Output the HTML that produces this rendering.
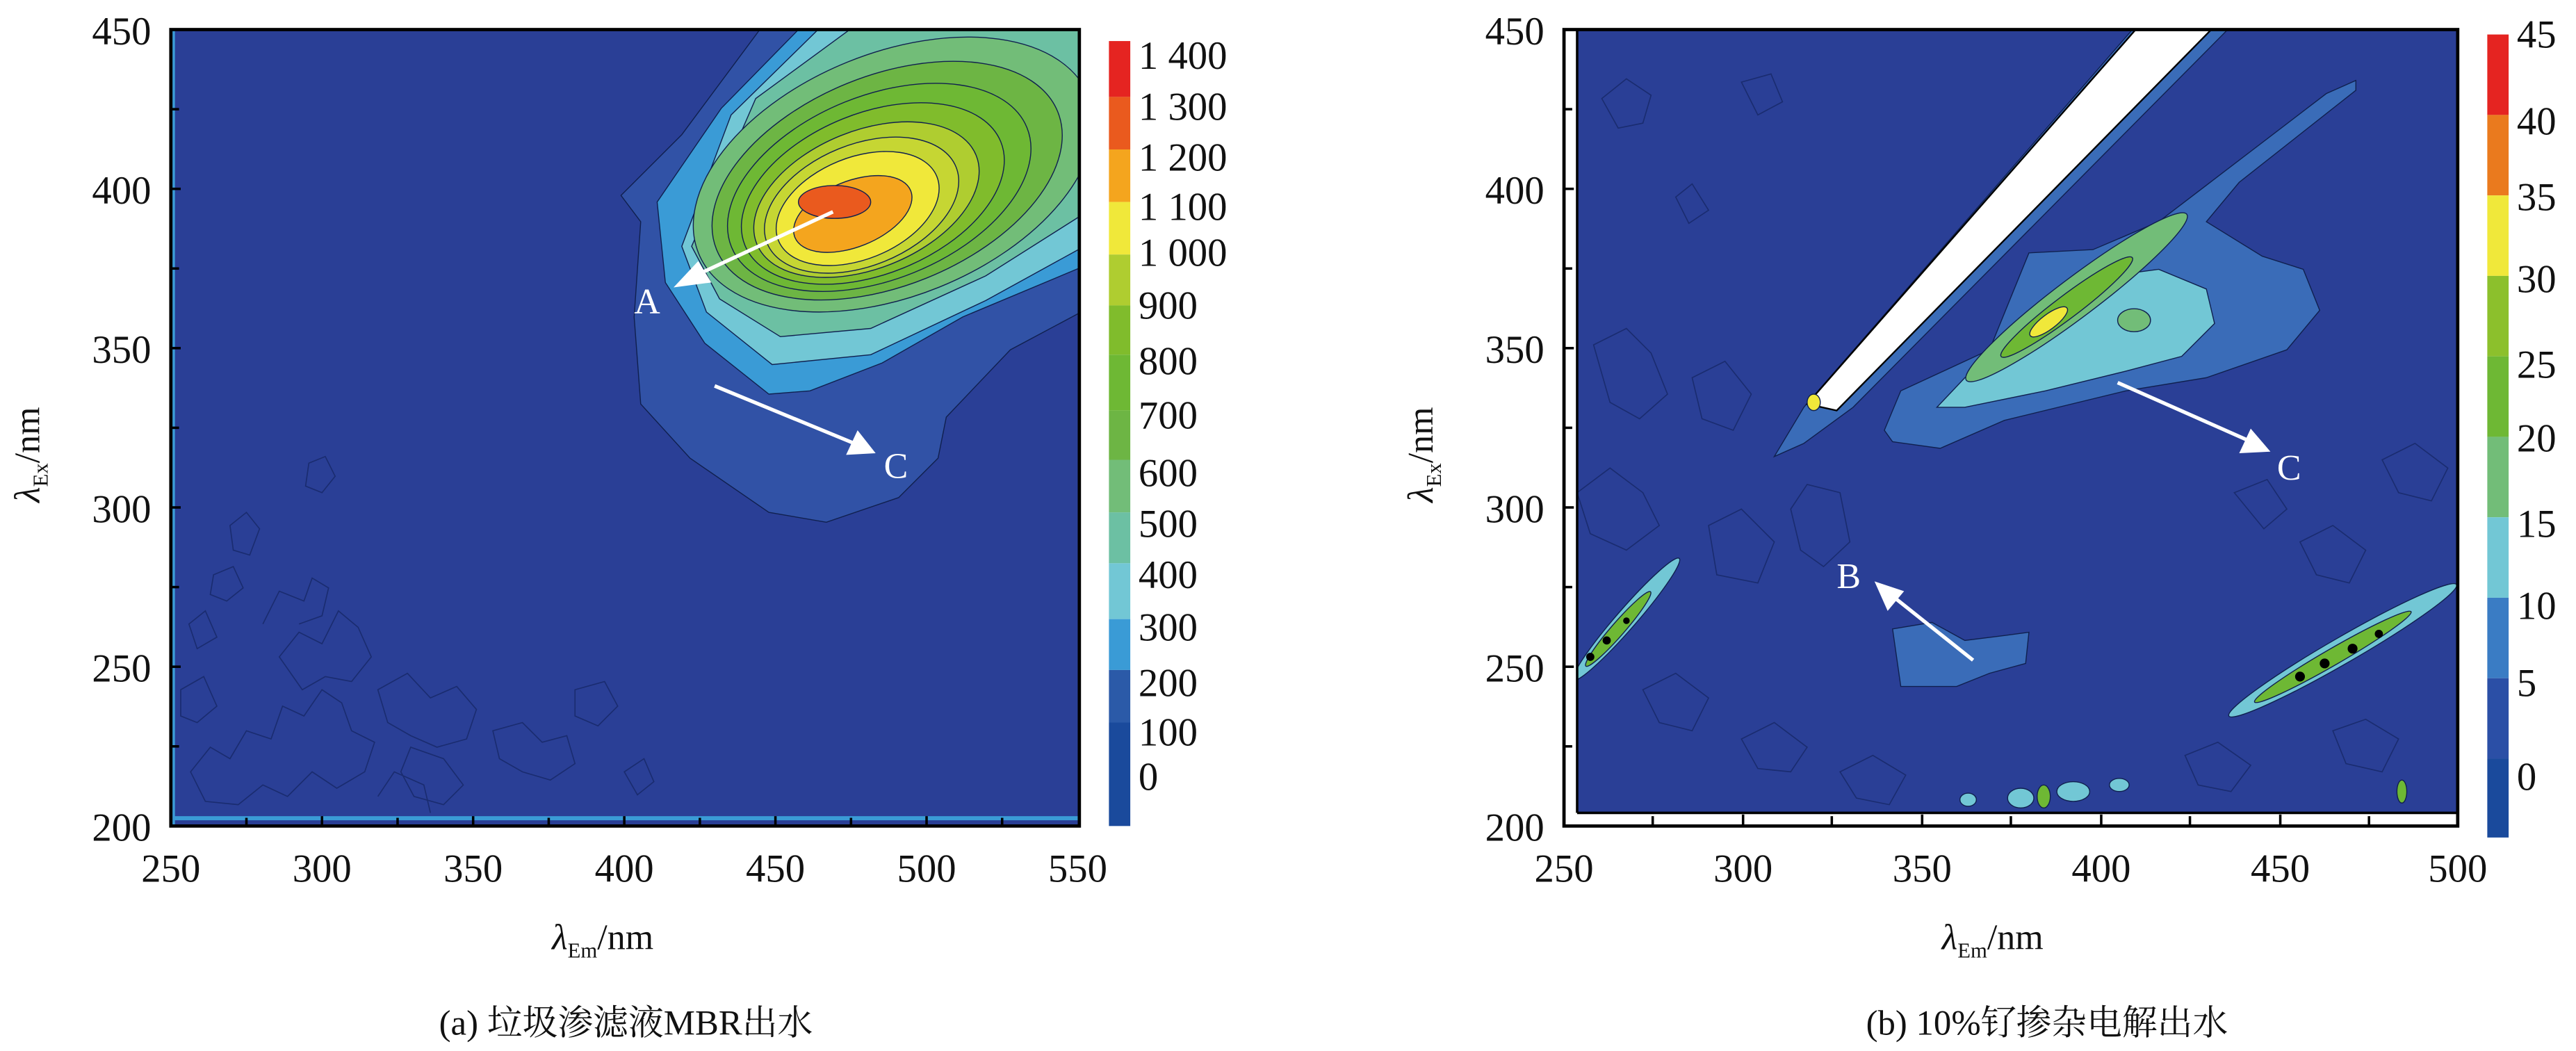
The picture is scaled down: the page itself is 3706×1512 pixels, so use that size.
<!DOCTYPE html>
<html><head><meta charset="utf-8"><style>
html,body{margin:0;padding:0;background:#fff;}
svg{display:block;}
text{font-family:"Liberation Serif","Noto Serif CJK SC",serif;fill:#111;}
</style></head><body>
<svg width="3706" height="1512" viewBox="0 0 1568 640" preserveAspectRatio="none" xmlns="http://www.w3.org/2000/svg">
<defs>
<clipPath id="cl"><rect x="104" y="18" width="553" height="485"/></clipPath>
<clipPath id="cr"><rect x="952" y="18" width="544" height="485"/></clipPath>
</defs>
<rect width="1568" height="640" fill="#fff"/>

<!-- LEFT PLOT -->
<g clip-path="url(#cl)" stroke="#10204f" stroke-width="0.6">
<rect x="104" y="18" width="553" height="485" fill="#2a3f96" stroke="none"/>
<path d="M378,119 L390,135 L386,193 L390,246 L420,279 L468,312 L503,318 L547,303 L571,279 L576,254 L615,213 L660,189 L660,16 L464,16 L415,82 L386,111 Z" fill="#3152a6"/>
<path d="M400,123 L405,172 L429,209 L468,240 L493,238 L537,221 L586,193 L660,162 L660,16 L488,16 L439,66 Z" fill="#3a9bd6"/>
<path d="M415,150 L430,190 L470,222 L530,216 L600,183 L660,150 L660,16 L500,16 L445,70 Z" fill="#72c7d5"/>
<path d="M421,150 L438,182 L475,205 L530,200 L600,168 L660,130 L660,16 L520,16 L460,60 Z" fill="#6cc0a3"/>
<g transform="rotate(-22 540 110)">
<ellipse cx="545" cy="108" rx="128" ry="74" fill="#72bd78"/>
<ellipse cx="540" cy="110" rx="112" ry="64" fill="#6db544"/>
<ellipse cx="534" cy="112" rx="97" ry="56" fill="#6eb834"/>
<ellipse cx="529" cy="114" rx="84" ry="49" fill="#80bc2c"/>
<ellipse cx="524" cy="116" rx="72" ry="42" fill="#afcd30"/>
<ellipse cx="520" cy="118" rx="62" ry="37" fill="#c6d633"/>
<ellipse cx="517" cy="119" rx="52" ry="31" fill="#f0e83a"/>
<ellipse cx="513" cy="121" rx="38" ry="20" fill="#f4a51e"/>
</g>
<ellipse cx="508" cy="123" rx="22" ry="10" fill="#ea5a1e"/>
<rect x="104" y="18" width="2.5" height="485" fill="#3a9bd6" stroke="none"/>
<rect x="104" y="497" width="553" height="2.5" fill="#3a9bd6" stroke="none"/>
<g fill="none" stroke="#1a2c70" stroke-width="0.7">
<path d="M116,470 L128,455 L140,462 L150,445 L165,450 L172,430 L185,436 L196,420 L208,428 L214,445 L228,452 L222,470 L205,480 L190,470 L175,485 L160,478 L145,490 L125,488 Z"/>
<path d="M170,400 L182,385 L196,392 L206,372 L218,382 L226,400 L214,415 L198,412 L184,420 Z"/>
<path d="M230,420 L248,410 L262,425 L278,418 L290,432 L284,450 L266,455 L250,448 L236,440 Z"/>
<path d="M300,445 L318,440 L330,452 L345,448 L350,465 L335,475 L318,470 L304,462 Z"/>
<path d="M130,350 L142,345 L148,358 L138,366 L128,362 Z"/>
<path d="M140,320 L150,312 L158,322 L152,338 L142,335 Z"/>
<path d="M188,282 L198,278 L204,290 L196,300 L186,296 Z"/>
<path d="M250,455 L270,462 L282,478 L270,490 L252,485 L244,470 Z"/>
<path d="M350,420 L368,415 L376,430 L364,442 L350,436 Z"/>
<path d="M110,420 L124,412 L132,430 L120,440 L110,436 Z"/>
<path d="M160,380 L170,360 L185,366 L190,352 L200,358 L196,375 L182,380"/>
<path d="M230,485 L240,470 L258,478 L262,495"/>
<path d="M115,380 L125,372 L132,388 L120,395 Z"/>
<path d="M380,470 L392,462 L398,476 L388,484 Z"/>
</g>
</g>
<rect x="104" y="18" width="553" height="485" fill="none" stroke="#000" stroke-width="2"/>
<g stroke="#000" stroke-width="1.5">
<line x1="104" y1="66.5" x2="109" y2="66.5"/><line x1="104" y1="115" x2="110" y2="115"/><line x1="104" y1="163.5" x2="109" y2="163.5"/><line x1="104" y1="212" x2="110" y2="212"/><line x1="104" y1="260.5" x2="109" y2="260.5"/><line x1="104" y1="309" x2="110" y2="309"/><line x1="104" y1="357.5" x2="109" y2="357.5"/><line x1="104" y1="406" x2="110" y2="406"/><line x1="104" y1="454.5" x2="109" y2="454.5"/>
<line x1="150" y1="503" x2="150" y2="498"/><line x1="196" y1="503" x2="196" y2="497"/><line x1="242" y1="503" x2="242" y2="498"/><line x1="288" y1="503" x2="288" y2="497"/><line x1="334" y1="503" x2="334" y2="498"/><line x1="380" y1="503" x2="380" y2="497"/><line x1="426" y1="503" x2="426" y2="498"/><line x1="472" y1="503" x2="472" y2="497"/><line x1="518" y1="503" x2="518" y2="498"/><line x1="564" y1="503" x2="564" y2="497"/><line x1="610" y1="503" x2="610" y2="498"/>
</g>
<g stroke="#fff" stroke-width="2.2" fill="#fff">
<line x1="507" y1="129" x2="425" y2="167"/>
<polygon points="410,175 425,159 433,172" stroke="none"/>
<line x1="435" y1="235" x2="520" y2="270"/>
<polygon points="533,276 515,277 522,262" stroke="none"/>
</g>
<text x="386" y="191" font-size="22" style="fill:#fff">A</text>
<text x="538" y="291" font-size="22" style="fill:#fff">C</text>
<g font-size="24" text-anchor="end">
<text x="92" y="27">450</text><text x="92" y="124">400</text><text x="92" y="221">350</text><text x="92" y="318">300</text><text x="92" y="415">250</text><text x="92" y="512">200</text>
</g>
<g font-size="24" text-anchor="middle">
<text x="104" y="537">250</text><text x="196" y="537">300</text><text x="288" y="537">350</text><text x="380" y="537">400</text><text x="472" y="537">450</text><text x="564" y="537">500</text><text x="656" y="537">550</text>
</g>
<text x="336" y="578" font-size="22"><tspan font-style="italic">λ</tspan><tspan font-size="13" dy="5">Em</tspan><tspan dy="-5">/nm</tspan></text>
<text transform="translate(24,306) rotate(-90)" font-size="22"><tspan font-style="italic">λ</tspan><tspan font-size="13" dy="5">Ex</tspan><tspan dy="-5">/nm</tspan></text>
<text x="381" y="630" font-size="21.5" text-anchor="middle">(a) 垃圾渗滤液MBR出水</text>
<g stroke="none">
<rect x="675" y="25" width="13" height="34" fill="#e52421"/>
<rect x="675" y="59" width="13" height="32" fill="#ea5a1e"/>
<rect x="675" y="91" width="13" height="32" fill="#f4a51e"/>
<rect x="675" y="123" width="13" height="32" fill="#f0e83a"/>
<rect x="675" y="155" width="13" height="31" fill="#afcd30"/>
<rect x="675" y="186" width="13" height="30" fill="#80bc2c"/>
<rect x="675" y="216" width="13" height="34" fill="#6eb834"/>
<rect x="675" y="250" width="13" height="30" fill="#6db544"/>
<rect x="675" y="280" width="13" height="32" fill="#72bd78"/>
<rect x="675" y="312" width="13" height="31" fill="#6cc0a3"/>
<rect x="675" y="343" width="13" height="34" fill="#72c7d5"/>
<rect x="675" y="377" width="13" height="31" fill="#3a9bd6"/>
<rect x="675" y="408" width="13" height="32" fill="#2b5aa8"/>
<rect x="675" y="440" width="13" height="63" fill="#1a4a9c"/>
</g>
<g font-size="24">
<text x="693" y="42">1 400</text><text x="693" y="73">1 300</text><text x="693" y="104">1 200</text><text x="693" y="134">1 100</text><text x="693" y="162">1 000</text><text x="693" y="194">900</text><text x="693" y="228">800</text><text x="693" y="261">700</text><text x="693" y="296">600</text><text x="693" y="327">500</text><text x="693" y="358">400</text><text x="693" y="390">300</text><text x="693" y="424">200</text><text x="693" y="454">100</text><text x="693" y="481">0</text>
</g>

<!-- RIGHT PLOT -->
<g clip-path="url(#cr)" stroke="#10204f" stroke-width="0.6">
<rect x="952" y="18" width="544" height="485" fill="#2a3f96" stroke="none"/>
<path d="M1147,262 L1157,238 L1211,213 L1235,154 L1274,152 L1314,135 L1416,57 L1434,49 L1434,55 L1363,111 L1343,135 L1377,156 L1402,164 L1412,189 L1392,213 L1343,230 L1294,238 L1220,256 L1181,273 L1152,269 Z" fill="#3a6cb8"/>
<path d="M1179,248 L1196,230 L1230,209 L1284,168 L1314,164 L1343,176 L1348,197 L1328,217 L1294,226 L1245,238 L1196,248 Z" fill="#72c7d5"/>
<ellipse cx="1264" cy="181" rx="84" ry="12" transform="rotate(-37 1264 181)" fill="#72bd78"/>
<ellipse cx="1258" cy="187" rx="50" ry="7" transform="rotate(-37 1258 187)" fill="#6eb834"/>
<ellipse cx="1247" cy="196" rx="14" ry="4.5" transform="rotate(-37 1247 196)" fill="#f0e83a"/>
<ellipse cx="1299" cy="195" rx="10" ry="7" fill="#72bd78"/>
<path d="M1152,383 L1176,379 L1196,390 L1220,387 L1235,385 L1233,404 L1211,410 L1191,418 L1157,418 Z" fill="#3a6cb8"/>
<path d="M1080,278 L1098,248 L1298,18 L1356,18 L1128,248 L1098,270 Z" fill="#3a6cb8"/>
<path d="M1100,246 L1118,250 L1346,18 L1300,18 Z" fill="#fff" stroke="#000" stroke-width="1"/>
<ellipse cx="1104" cy="245" rx="4" ry="5" fill="#f0e83a"/>
<ellipse cx="990" cy="377" rx="49" ry="6" transform="rotate(-49 990 377)" fill="#72c7d5"/>
<ellipse cx="985" cy="383" rx="30" ry="4" transform="rotate(-49 985 383)" fill="#6eb834"/>
<ellipse cx="1426" cy="396" rx="80" ry="8" transform="rotate(-30 1426 396)" fill="#72c7d5"/>
<ellipse cx="1420" cy="400" rx="55" ry="5" transform="rotate(-30 1420 400)" fill="#6eb834"/>
<g fill="#000" stroke="none">
<circle cx="1400" cy="412" r="3"/><circle cx="1415" cy="404" r="3"/><circle cx="1432" cy="395" r="3"/><circle cx="1448" cy="386" r="2.5"/><circle cx="968" cy="400" r="2.5"/><circle cx="978" cy="390" r="2.5"/><circle cx="990" cy="378" r="2"/>
</g>
<g fill="#72c7d5">
<ellipse cx="1230" cy="486" rx="8" ry="6"/><ellipse cx="1262" cy="482" rx="10" ry="6"/><ellipse cx="1198" cy="487" rx="5" ry="4"/><ellipse cx="1290" cy="478" rx="6" ry="4"/>
<ellipse cx="1244" cy="485" rx="4" ry="7" fill="#6eb834"/><ellipse cx="1462" cy="482" rx="3" ry="7" fill="#6eb834"/>
</g>
<g fill="none" stroke="#1a2c70" stroke-width="0.7">
<path d="M975,60 L990,48 L1005,58 L1000,75 L985,78 Z"/>
<path d="M1060,50 L1078,45 L1085,62 L1070,70 Z"/>
<path d="M1020,120 L1030,112 L1040,128 L1028,136 Z"/>
<path d="M970,210 L990,200 L1005,215 L1015,240 L998,255 L980,245 Z"/>
<path d="M1030,230 L1050,220 L1066,240 L1055,262 L1036,255 Z"/>
<path d="M960,300 L980,285 L1000,300 L1010,320 L990,335 L968,325 Z"/>
<path d="M1040,320 L1060,310 L1080,330 L1070,355 L1045,350 Z"/>
<path d="M1090,310 L1100,295 L1120,300 L1126,330 L1110,345 L1096,335 Z"/>
<path d="M1000,420 L1020,410 L1040,425 L1030,445 L1010,440 Z"/>
<path d="M1060,450 L1080,440 L1100,455 L1090,470 L1070,468 Z"/>
<path d="M1400,330 L1420,320 L1440,335 L1430,355 L1410,350 Z"/>
<path d="M1450,280 L1470,270 L1490,285 L1480,305 L1460,300 Z"/>
<path d="M1360,300 L1380,292 L1392,310 L1378,322 Z"/>
<path d="M1120,470 L1140,460 L1160,472 L1150,490 L1130,486 Z"/>
<path d="M1330,460 L1350,452 L1370,466 L1358,482 L1338,478 Z"/>
<path d="M1420,445 L1440,438 L1460,450 L1450,470 L1428,465 Z"/>
</g>
<rect x="952" y="18" width="8" height="485" fill="#fff" stroke="none"/>
<line x1="960" y1="18" x2="960" y2="495" stroke="#000" stroke-width="1.5"/>
<rect x="952" y="495" width="544" height="8" fill="#fff" stroke="none"/>
<line x1="960" y1="495" x2="1496" y2="495" stroke="#000" stroke-width="1.5"/>
</g>
<rect x="952" y="18" width="544" height="485" fill="none" stroke="#000" stroke-width="2"/>
<g stroke="#000" stroke-width="1.5">
<line x1="952" y1="66.5" x2="957" y2="66.5"/><line x1="952" y1="115" x2="958" y2="115"/><line x1="952" y1="163.5" x2="957" y2="163.5"/><line x1="952" y1="212" x2="958" y2="212"/><line x1="952" y1="260.5" x2="957" y2="260.5"/><line x1="952" y1="309" x2="958" y2="309"/><line x1="952" y1="357.5" x2="957" y2="357.5"/><line x1="952" y1="406" x2="958" y2="406"/><line x1="952" y1="454.5" x2="957" y2="454.5"/>
<line x1="1006" y1="503" x2="1006" y2="497"/><line x1="1061" y1="503" x2="1061" y2="496"/><line x1="1115" y1="503" x2="1115" y2="497"/><line x1="1170" y1="503" x2="1170" y2="496"/><line x1="1224" y1="503" x2="1224" y2="497"/><line x1="1279" y1="503" x2="1279" y2="496"/><line x1="1333" y1="503" x2="1333" y2="497"/><line x1="1388" y1="503" x2="1388" y2="496"/><line x1="1442" y1="503" x2="1442" y2="497"/>
</g>
<g stroke="#fff" stroke-width="2.2" fill="#fff">
<line x1="1289" y1="233" x2="1368" y2="268"/>
<polygon points="1382,275 1363,276 1370,261" stroke="none"/>
<line x1="1201" y1="402" x2="1152" y2="363"/>
<polygon points="1141,354 1159,360 1149,372" stroke="none"/>
</g>
<text x="1118" y="358" font-size="22" style="fill:#fff">B</text>
<text x="1386" y="292" font-size="22" style="fill:#fff">C</text>
<g font-size="24" text-anchor="end">
<text x="940" y="27">450</text><text x="940" y="124">400</text><text x="940" y="221">350</text><text x="940" y="318">300</text><text x="940" y="415">250</text><text x="940" y="512">200</text>
</g>
<g font-size="24" text-anchor="middle">
<text x="952" y="537">250</text><text x="1061" y="537">300</text><text x="1170" y="537">350</text><text x="1279" y="537">400</text><text x="1388" y="537">450</text><text x="1496" y="537">500</text>
</g>
<text x="1182" y="578" font-size="22"><tspan font-style="italic">λ</tspan><tspan font-size="13" dy="5">Em</tspan><tspan dy="-5">/nm</tspan></text>
<text transform="translate(872,306) rotate(-90)" font-size="22"><tspan font-style="italic">λ</tspan><tspan font-size="13" dy="5">Ex</tspan><tspan dy="-5">/nm</tspan></text>
<text x="1246" y="630" font-size="21.5" text-anchor="middle">(b) 10%钌掺杂电解出水</text>
<g stroke="none">
<rect x="1514" y="21" width="13" height="49" fill="#e52421"/>
<rect x="1514" y="70" width="13" height="49" fill="#ea7a1e"/>
<rect x="1514" y="119" width="13" height="49" fill="#f0e83a"/>
<rect x="1514" y="168" width="13" height="49" fill="#8cc02c"/>
<rect x="1514" y="217" width="13" height="49" fill="#6eb834"/>
<rect x="1514" y="266" width="13" height="49" fill="#72bd78"/>
<rect x="1514" y="315" width="13" height="49" fill="#72c7d5"/>
<rect x="1514" y="364" width="13" height="49" fill="#3a7cc4"/>
<rect x="1514" y="413" width="13" height="49" fill="#2b4fa6"/>
<rect x="1514" y="462" width="13" height="48" fill="#1a4a9c"/>
</g>
<g font-size="24">
<text x="1532" y="29">45</text><text x="1532" y="82">40</text><text x="1532" y="128">35</text><text x="1532" y="178">30</text><text x="1532" y="230">25</text><text x="1532" y="275">20</text><text x="1532" y="327">15</text><text x="1532" y="377">10</text><text x="1532" y="424">5</text><text x="1532" y="481">0</text>
</g>
</svg>
</body></html>
